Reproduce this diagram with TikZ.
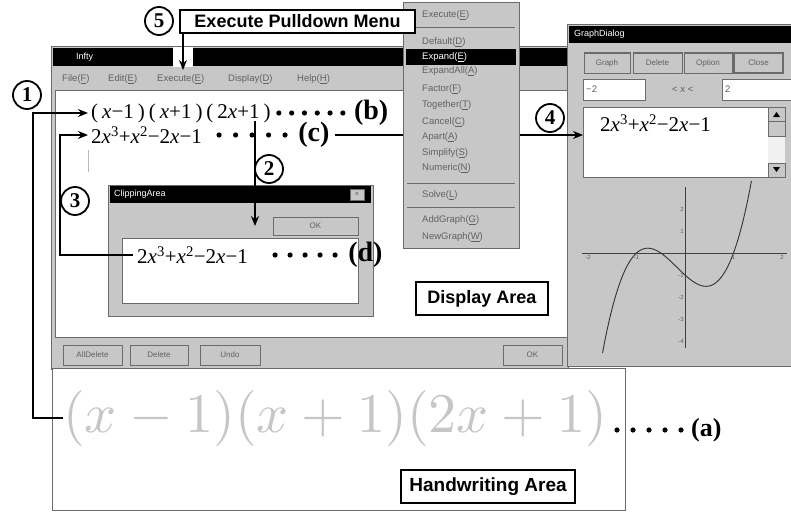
\documentclass[tikz,border=0pt]{standalone}
\usepackage[no-math]{fontspec}
\setmainfont{Liberation Serif}
\setsansfont{Liberation Sans}
\usepackage{graphicx}
\usetikzlibrary{positioning, arrows.meta}
\definecolor{wingray}{gray}{0.78}
\definecolor{winedge}{gray}{0.42}
\definecolor{uitext}{gray}{0.38}
\newcommand\xv{\textit{x}}
\newcommand\gp{\hspace{4pt}}
\newcommand\cubic{2\xv\textsuperscript{3}+\xv\textsuperscript{2}−2\xv−1}
\newcommand\factored{(\gp\xv−1\gp)\gp(\gp\xv+1\gp)\gp(\gp2\xv+1\gp)}
\tikzset{
    win/.style={draw=winedge, fill=wingray, line width=1pt},
    pane/.style={draw=winedge, fill=white, line width=0.8pt},
    btn/.style={draw=winedge, fill=wingray, line width=1pt, inner sep=0pt, minimum height=20pt, font=\sffamily\fontsize{8}{8}\selectfont, text=uitext},
    uitxt/.style={anchor=west, inner sep=0pt, font=\sffamily\fontsize{9.5}{9.5}\selectfont, text=uitext},
    ttl/.style={anchor=west, inner sep=0pt, font=\sffamily\fontsize{9}{9}\selectfont, text=white},
    axlbl/.style={inner sep=1pt, font=\sffamily\fontsize{6}{6}\selectfont, text=uitext},
    expr/.style={anchor=west, inner sep=0pt, font=\fontsize{21}{21}\selectfont},
    tag/.style={anchor=west, inner sep=0pt, font=\bfseries\fontsize{28}{28}\selectfont},
    circnum/.style={circle, draw, fill=white, line width=1.8pt, minimum size=28pt, inner sep=0pt, font=\bfseries\fontsize{21}{21}\selectfont},
    callout/.style={draw, fill=white, line width=1.2pt, inner sep=0pt, font=\sffamily\bfseries\fontsize{18}{18}\selectfont},
    link/.style={line width=1.4pt, -{Stealth[length=10pt, width=8pt]}},
}
\begin{document}
\begin{tikzpicture}[x=1pt, y=-1pt]
\useasboundingbox (0,0) rectangle (791,511);
\draw[win] (51,47) rectangle (568,369);
\fill (53,48) rectangle (567,66);
\node[ttl] (infty) at (76,57) {Infty};
\node[uitxt] at (62,79) {File(\underline{F})};
\node[uitxt] at (108,79) {Edit(\underline{E})};
\node[uitxt] at (157,79) {Execute(\underline{E})};
\node[uitxt] at (228,79) {Display(\underline{D})};
\node[uitxt] at (297,79) {Help(\underline{H})};
\draw[pane] (55,90) rectangle (567,337);
\node[btn, minimum width=59pt] at (92.5,355) {AllDelete};
\node[btn, minimum width=58pt] at (159,355) {Delete};
\node[btn, minimum width=60pt] at (230,355) {Undo};
\node[btn, minimum width=59pt] at (532.5,355) {OK};

\node[expr] (bexp) at (91,113) {\factored};
\foreach \i in {0,...,5} \fill ([xshift={8pt+\i*12.8pt}]bexp.east) circle (2.6pt);
\node[tag] (b) [right=83pt of bexp] {(b)};
\node[expr] (cexp) at (91,135) {\cubic};
\foreach \i in {0,...,4} \fill ([xshift={17pt+\i*16.5pt}]cexp.east) circle (2.6pt);
\node[tag] (c) [right=96pt of cexp] {(c)};
\draw[gray!55, line width=1pt] (88,150) -- (88,172);
\node[callout, minimum width=132pt, minimum height=33pt] (disp) at (482,298.5) {Display Area};

\draw[win] (108,185) rectangle (373,316);
\fill (110,186) rectangle (371,203);
\node[ttl] at (114,194.5) {ClippingArea};
\node[btn, minimum width=14pt, minimum height=11pt] at (357,194.5) {\texttimes};
\node[btn, minimum width=85pt, minimum height=18pt] (clipok) at (315.5,226) {OK};
\draw[pane] (122,238) rectangle (358,303);
\node[expr] (dexp) at (137,255) {\cubic};
\foreach \i in {0,...,4} \fill ([xshift={27pt+\i*15pt}]dexp.east) circle (2.6pt);
\node[tag] (d) [right=100pt of dexp] {(d)};

\draw[win] (567,25) rectangle (791,366);
\fill (569,26) rectangle (791,43);
\node[ttl] at (574,34.5) {GraphDialog};
\node[btn, minimum width=46pt] at (607,63) {Graph};
\node[btn, minimum width=49pt] at (657.5,63) {Delete};
\node[btn, minimum width=48pt] at (708,63) {Option};
\node[btn, minimum width=49pt, line width=1.8pt] at (758.5,63) {Close};
\draw[pane] (583,79) rectangle (645,100);
\node[uitxt] at (586,89.5) {−2};
\node[uitxt] at (672,89.5) {< x <};
\draw[pane] (722,79) rectangle (791,100);
\node[uitxt] at (725,89.5) {2};
\node[pane, minimum width=185pt, minimum height=70pt, anchor=north west, inner sep=0pt] (gbox) at (583,107) {};
\node[expr] (gexp) at (600,123) {\cubic};
\fill[gray!12] (768,107) rectangle (785,177);
\draw[win] (768,107) rectangle (785,121);
\draw[win] (768,121) rectangle (785,136);
\draw[win] (768,163) rectangle (785,177);
\fill (773,117) -- (780,117) -- (776.5,112) -- cycle;
\fill (773,167) -- (780,167) -- (776.5,172) -- cycle;
\draw[black!75, line width=0.9pt] (582,253) -- (787,253);
\draw[black!75, line width=0.9pt] (685,187) -- (685,348);
\draw[black!80, line width=0.9pt] plot[domain=-1.7:1.37, samples=60, smooth] ({685+48.5*\x},{253-22*(2*\x*\x*\x+\x*\x-2*\x-1)});
\foreach \tk in {-2,-1,1,2} \node[axlbl, below] at ({685+48.5*\tk},254) {\tk};
\foreach \tk in {-4,...,-1,1,2} \node[axlbl, left] at (685,{253-22*\tk}) {\tk};

\draw[pane] (52,368) rectangle (625,510);
\node[anchor=west, inner sep=0pt, text=gray!45] (hw) at (63,418) {\scalebox{5.6}{$(x-1)(x+1)(2x+1)$}};
\coordinate (adots) at (617,430);
\foreach \i in {0,...,4} \fill ([xshift={\i*16pt}]adots) circle (2.6pt);
\node[tag, font=\bfseries\fontsize{26}{26}\selectfont] (a) [right=74pt of adots] {(a)};
\node[callout, font=\sffamily\bfseries\fontsize{19}{19}\selectfont, minimum width=174pt, minimum height=33pt] (hand) at (488,486.5) {Handwriting Area};

\coordinate (cut) at (255,121);
\draw[link, shorten >=3pt] (hw.west) -- ++(-30,0) |- (bexp.west);
\draw[link, shorten >=3pt] ([xshift=-4pt]dexp.west) -- ++(-73,0) |- (cexp.west);
\draw[link] (cut) -- (cut |- clipok);
\draw[link] ([xshift=5pt]c.east) -- (c.east -| gbox.west);

\draw[win] (403,3) rectangle (519,248);
\fill (406,49) rectangle (516,65);
\foreach \y/\lbl in {15/Execute(\underline{E}), 42/Default(\underline{D}), 71/ExpandAll(\underline{A}), 89/Factor(\underline{F}), 105/Together(\underline{T}), 122/Cancel(\underline{C}), 137/Apart(\underline{A}), 153/Simplify(\underline{S}), 168/Numeric(\underline{N}), 195/Solve(\underline{L}), 220/AddGraph(\underline{G}), 237/NewGraph(\underline{W})}
    \node[uitxt] at (422,\y) {\lbl};
\node[uitxt, text=white] at (422,57) {Expand(\underline{E})};
\foreach \y in {27,183,207} \draw[winedge] (407,\y) -- (515,\y);

\fill[white] (173,47) rectangle (193,67);
\node[callout, minimum width=235pt, minimum height=23pt] (pulldown) at (297.5,21.5) {Execute Pulldown Menu};
\coordinate (menuhit) at (183,70);
\draw[link] (pulldown.south -| menuhit) -- (menuhit);

\node[circnum] (n1) at (27,95) {1};
\node[circnum] (n2) at (269,169) {2};
\node[circnum] (n3) at (75,201) {3};
\node[circnum] (n4) at (550,118) {4};
\node[circnum] (n5) at (159,21) {5};
\end{tikzpicture}
\end{document}
